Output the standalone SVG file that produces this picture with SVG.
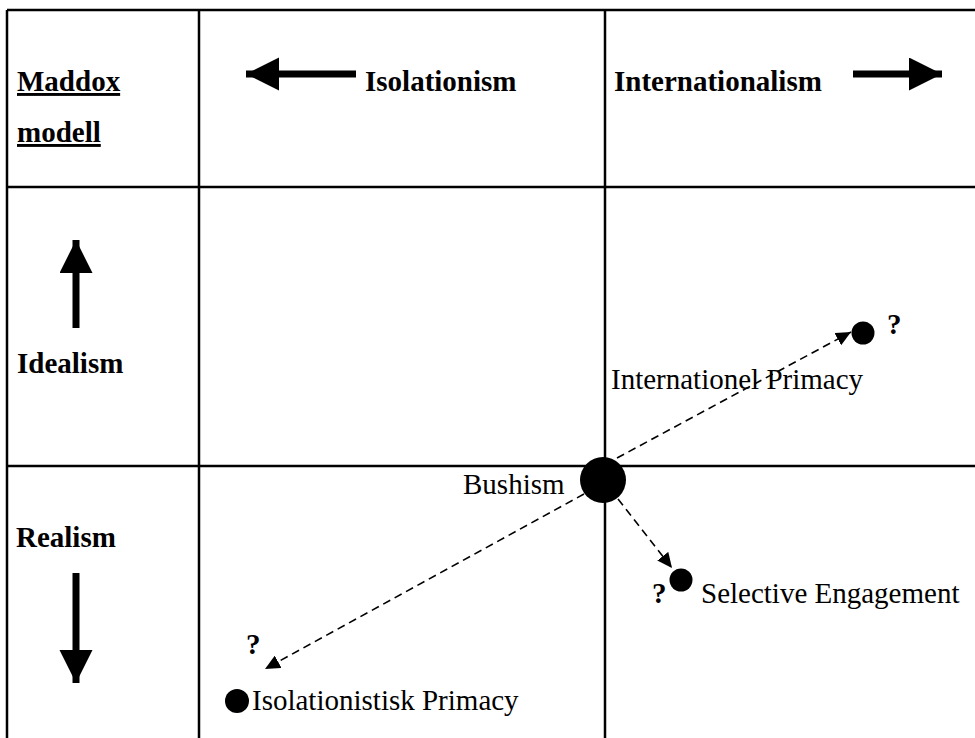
<svg xmlns="http://www.w3.org/2000/svg" width="975" height="738" viewBox="0 0 975 738">
  <style>
    .grid { stroke: #000; stroke-width: 2.5; fill: none; }
    .bold { font-family: "Liberation Serif", "Times New Roman", serif; font-weight: bold; font-size: 29px; fill: #000; }
    .reg { font-family: "Liberation Serif", "Times New Roman", serif; font-size: 29px; fill: #000; }
    .axis { stroke: #000; stroke-width: 7; fill: none; }
    .dash { stroke: #000; stroke-width: 1.6; stroke-dasharray: 8 5; fill: none; }
    .dot { fill: #000; }
  </style>
  <defs>
    <marker id="bighead" markerUnits="userSpaceOnUse" markerWidth="34" markerHeight="34" refX="33" refY="16.5" orient="auto">
      <path d="M0,0 L33,16.5 L0,33 Z" fill="#000"/>
    </marker>
    <marker id="head" markerUnits="userSpaceOnUse" markerWidth="16" markerHeight="14" refX="15" refY="7" orient="auto">
      <path d="M0,0 L15,7 L0,14 Z" fill="#000"/>
    </marker>
  </defs>
  <rect width="975" height="738" fill="#fff"/>

  <g id="grid">
    <line class="grid" x1="7" y1="10" x2="975" y2="10"/>
    <line class="grid" x1="7" y1="187" x2="975" y2="187"/>
    <line class="grid" x1="7" y1="466" x2="975" y2="466"/>
    <line class="grid" x1="7" y1="10" x2="7" y2="738"/>
    <line class="grid" x1="199" y1="10" x2="199" y2="738"/>
    <line class="grid" x1="605" y1="10" x2="605" y2="738"/>
  </g>

  <g id="title">
    <text class="bold" x="17" y="91" text-decoration="underline">Maddox</text>
    <text class="bold" x="17" y="142" text-decoration="underline">modell</text>
  </g>

  <g id="isolationism-axis">
    <line class="axis" x1="356" y1="74" x2="246" y2="74" marker-end="url(#bighead)"/>
    <text class="bold" x="365" y="91">Isolationism</text>
  </g>

  <g id="internationalism-axis">
    <text class="bold" x="614" y="91">Internationalism</text>
    <line class="axis" x1="853" y1="74" x2="942" y2="74" marker-end="url(#bighead)"/>
  </g>

  <g id="idealism-axis">
    <line class="axis" x1="76" y1="328" x2="76" y2="240" marker-end="url(#bighead)"/>
    <text class="bold" x="17" y="373">Idealism</text>
  </g>

  <g id="realism-axis">
    <text class="bold" x="16" y="547">Realism</text>
    <line class="axis" x1="76" y1="573" x2="76" y2="683" marker-end="url(#bighead)"/>
  </g>

  <g id="connectors">
    <line class="dash" x1="617" y1="458" x2="851" y2="332" marker-end="url(#head)"/>
    <line class="dash" x1="618" y1="499" x2="672" y2="568" marker-end="url(#head)"/>
    <line class="dash" x1="584" y1="494" x2="265" y2="669" marker-end="url(#head)"/>
  </g>

  <g id="bushism">
    <circle class="dot" cx="603" cy="480" r="23"/>
    <text class="reg" x="463" y="494">Bushism</text>
  </g>

  <g id="international-primacy">
    <circle class="dot" cx="863" cy="333" r="11.5"/>
    <text class="bold" x="887" y="334">?</text>
    <text class="reg" x="611" y="389">Internationel Primacy</text>
  </g>

  <g id="selective-engagement">
    <circle class="dot" cx="681" cy="580" r="11.5"/>
    <text class="bold" x="652" y="603">?</text>
    <text class="reg" x="701" y="603">Selective Engagement</text>
  </g>

  <g id="isolationistisk-primacy">
    <text class="bold" x="246" y="654">?</text>
    <circle class="dot" cx="237" cy="701" r="12"/>
    <text class="reg" x="252" y="710">Isolationistisk Primacy</text>
  </g>
</svg>
